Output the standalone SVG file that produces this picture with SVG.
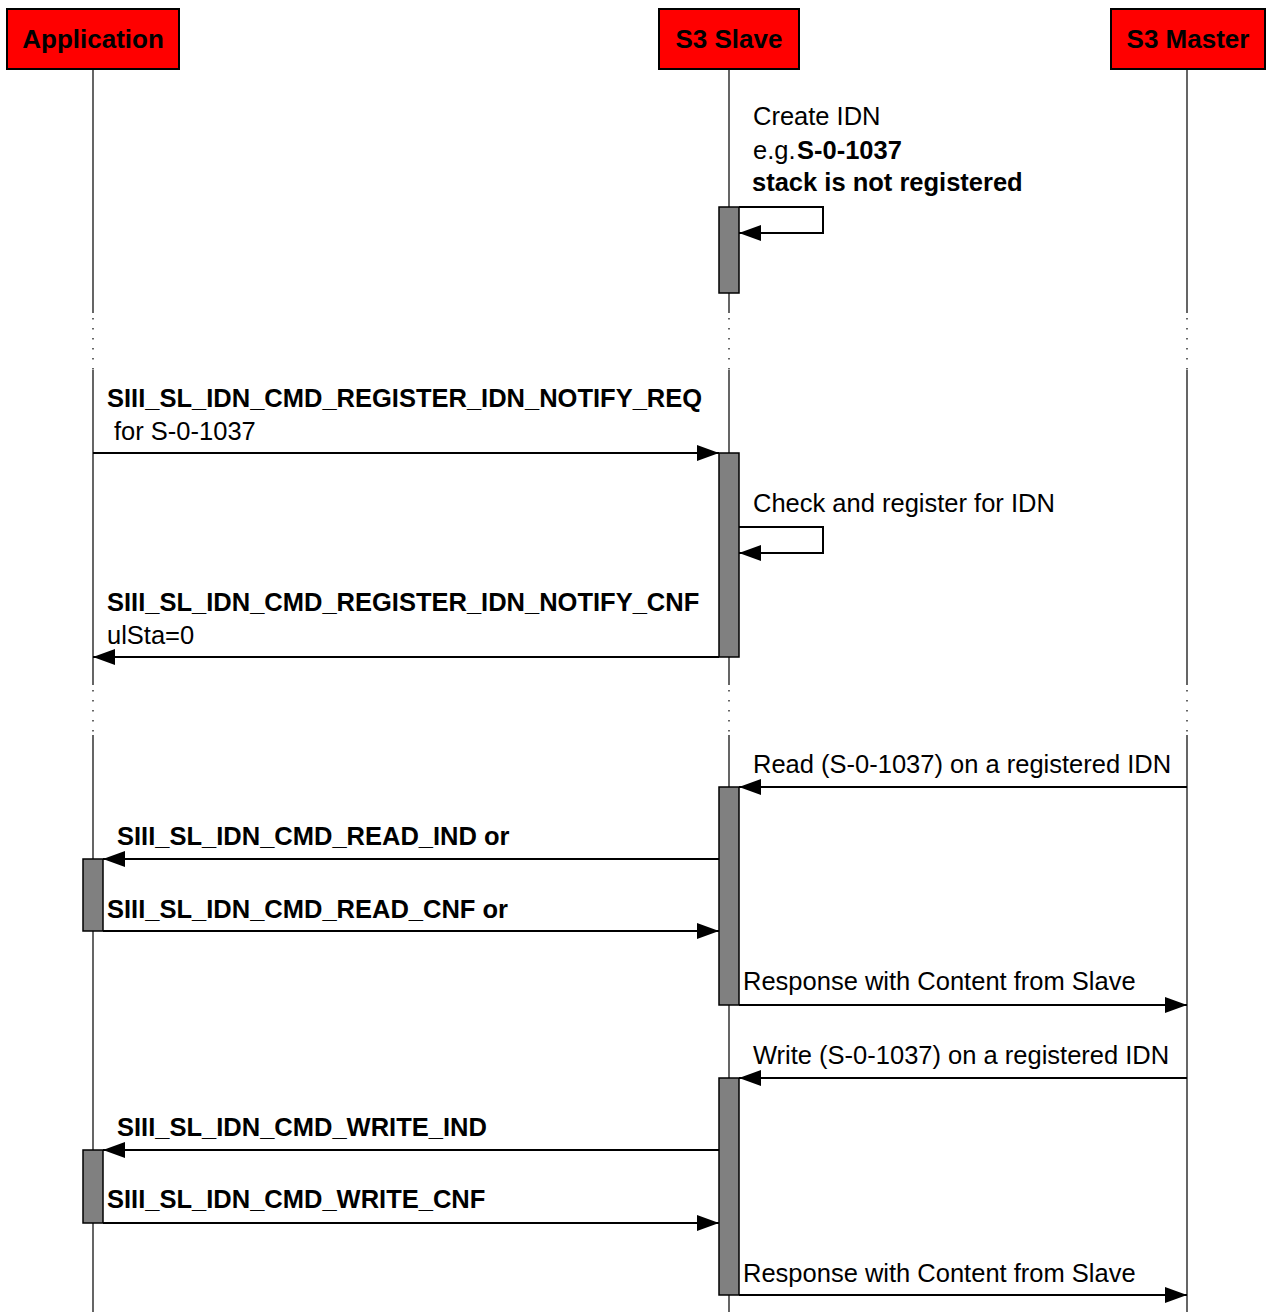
<svg xmlns="http://www.w3.org/2000/svg" width="1266" height="1312" viewBox="0 0 1266 1312">
<defs>
<style>
.hdr{fill:#ff0000;stroke:#000;stroke-width:2}
.ht{font-family:"Liberation Sans",Arial,sans-serif;font-weight:bold;font-size:26px;fill:#000;text-anchor:middle}
.life{stroke:#000;stroke-width:1.2;fill:none}
.dot{stroke:#000;stroke-width:1.2;fill:none;stroke-dasharray:1.5 8.5}
.bar{fill:#808080;stroke:#000;stroke-width:1.5}
.msg{stroke:#000;stroke-width:2;fill:none}
.t{font-family:"Liberation Sans",Arial,sans-serif;font-size:25.5px;fill:#000}
.b{font-weight:bold}
</style>
<marker id="ah" viewBox="0 0 22 16" refX="22" refY="8" markerWidth="22" markerHeight="16" markerUnits="userSpaceOnUse" orient="auto">
<path d="M0,0 L22,8 L0,16 Z" fill="#000"/>
</marker>
</defs>
<rect width="1266" height="1312" fill="#fff"/>

<g id="lifelines">
<path class="life" d="M93,69 V313 M93,370 V685 M93,735 V1312"/>
<path class="dot" d="M93,318 V370 M93,690 V735"/>
<path class="life" d="M729,69 V313 M729,370 V685 M729,735 V1312"/>
<path class="dot" d="M729,318 V370 M729,690 V735"/>
<path class="life" d="M1187,69 V313 M1187,370 V685 M1187,735 V1312"/>
<path class="dot" d="M1187,318 V370 M1187,690 V735"/>
</g>

<g id="node-application">
<rect class="hdr" x="7" y="9" width="172" height="60"/>
<text class="ht" x="93" y="48">Application</text>
</g>
<g id="node-s3slave">
<rect class="hdr" x="659" y="9" width="140" height="60"/>
<text class="ht" x="729" y="48">S3 Slave</text>
</g>
<g id="node-s3master">
<rect class="hdr" x="1111" y="9" width="154" height="60"/>
<text class="ht" x="1188" y="48">S3 Master</text>
</g>

<g id="activations">
<rect class="bar" x="719" y="207" width="20" height="86"/>
<rect class="bar" x="719" y="453" width="20" height="204"/>
<rect class="bar" x="719" y="787" width="20" height="218"/>
<rect class="bar" x="83" y="859" width="20" height="72"/>
<rect class="bar" x="719" y="1078" width="20" height="217"/>
<rect class="bar" x="83" y="1150" width="20" height="73"/>
</g>

<g id="connectors">
<path class="msg" d="M739,207 H823 V233 H739" marker-end="url(#ah)"/>
<path class="msg" d="M93,453 H719" marker-end="url(#ah)"/>
<path class="msg" d="M739,527 H823 V553 H739" marker-end="url(#ah)"/>
<path class="msg" d="M719,657 H93" marker-end="url(#ah)"/>
<path class="msg" d="M1187,787 H739" marker-end="url(#ah)"/>
<path class="msg" d="M719,859 H103" marker-end="url(#ah)"/>
<path class="msg" d="M103,931 H719" marker-end="url(#ah)"/>
<path class="msg" d="M739,1005 H1187" marker-end="url(#ah)"/>
<path class="msg" d="M1187,1078 H739" marker-end="url(#ah)"/>
<path class="msg" d="M719,1150 H103" marker-end="url(#ah)"/>
<path class="msg" d="M103,1223 H719" marker-end="url(#ah)"/>
<path class="msg" d="M739,1295 H1187" marker-end="url(#ah)"/>
</g>

<g id="labels">
<text class="t" x="753" y="125">Create IDN</text>
<text class="t" x="753" y="159">e.g.<tspan class="b" x="797">S-0-1037</tspan></text>
<text class="t b" x="752" y="191">stack is not registered</text>
<text class="t b" x="107" y="407">SIII_SL_IDN_CMD_REGISTER_IDN_NOTIFY_REQ</text>
<text class="t" x="114" y="440">for S-0-1037</text>
<text class="t" x="753" y="512">Check and register for IDN</text>
<text class="t b" x="107" y="611">SIII_SL_IDN_CMD_REGISTER_IDN_NOTIFY_CNF</text>
<text class="t" x="107" y="644">ulSta=0</text>
<text class="t" x="753" y="773">Read (S-0-1037) on a registered IDN</text>
<text class="t b" x="117" y="845">SIII_SL_IDN_CMD_READ_IND or</text>
<text class="t b" x="107" y="918">SIII_SL_IDN_CMD_READ_CNF or</text>
<text class="t" x="743" y="990">Response with Content from Slave</text>
<text class="t" x="753" y="1064">Write (S-0-1037) on a registered IDN</text>
<text class="t b" x="117" y="1136">SIII_SL_IDN_CMD_WRITE_IND</text>
<text class="t b" x="107" y="1208">SIII_SL_IDN_CMD_WRITE_CNF</text>
<text class="t" x="743" y="1282">Response with Content from Slave</text>
</g>
</svg>
